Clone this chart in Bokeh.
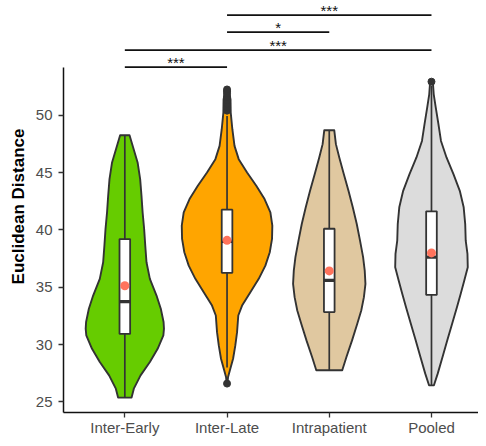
import numpy as np
from bokeh.plotting import figure
from bokeh.models import Range1d, FixedTicker
from bokeh.core.properties import value
from bokeh.embed import file_html
from bokeh.resources import INLINE

# ---------------- data ----------------
groups = ["Inter-Early", "Inter-Late", "Intrapatient", "Pooled"]
fill_colors = ["#66CC00", "#FFA500", "#E0C8A0", "#DCDCDC"]

# violin outlines (value, half-width in category units)
early_y = [48.26, 45.88, 44.43, 42.98, 41.53, 40.08, 38.62, 37.18, 35.73, 34.27,
           33.12, 31.96, 31.38, 30.79, 29.63, 28.48, 27.31, 26.15, 25.37]
early_w = [0.046, 0.125, 0.150, 0.163, 0.174, 0.189, 0.200, 0.212, 0.245, 0.310,
           0.352, 0.379, 0.383, 0.377, 0.321, 0.245, 0.154, 0.088, 0.066]

late_y = [52.25, 51.39, 50.23, 48.78, 47.33, 46.17, 45.01, 43.85, 42.69, 41.53,
          40.37, 39.21, 38.05, 36.88, 35.73, 34.57, 33.40, 32.53, 31.08, 29.92,
          28.76, 27.89, 27.17, 26.59]
late_w = [0.015, 0.034, 0.036, 0.052, 0.073, 0.114, 0.196, 0.286, 0.367, 0.424,
          0.443, 0.440, 0.418, 0.375, 0.310, 0.228, 0.147, 0.110, 0.098, 0.081,
          0.059, 0.032, 0.010, 0.004]

intra_y = [48.69, 47.48, 46.32, 44.87, 43.41, 41.97, 40.51, 39.06, 37.62, 36.45,
           35.29, 34.13, 32.97, 31.81, 30.36, 28.91, 27.75]
intra_w = [0.049, 0.065, 0.098, 0.142, 0.188, 0.230, 0.269, 0.301, 0.331, 0.347,
           0.354, 0.339, 0.313, 0.274, 0.223, 0.168, 0.127]

pooled_y = [52.93, 52.70, 51.83, 50.67, 49.22, 47.76, 46.32, 44.87, 43.41, 41.97,
            40.51, 39.06, 37.90, 36.75, 35.58, 34.42, 33.26, 31.81, 30.36, 28.91,
            27.46, 26.44]
pooled_w = [0.006, 0.015, 0.022, 0.042, 0.068, 0.093, 0.147, 0.215, 0.277, 0.315,
            0.330, 0.335, 0.352, 0.355, 0.321, 0.286, 0.249, 0.202, 0.154, 0.108,
            0.061, 0.024]

# box statistics
box_q1 = [30.92, 36.25, 32.83, 34.33]
box_med = [33.74, 39.00, 35.60, 37.62]
box_q3 = [39.20, 41.76, 40.10, 41.62]
whisk_lo = [25.37, 28.00, 27.75, 26.44]
whisk_hi = [48.26, 49.94, 48.69, 52.55]
means = [35.13, 39.09, 36.42, 37.99]

# outliers
out_group = [2, 2, 2, 2, 2, 2, 2, 2, 2, 4]
out_y = [50.40, 50.70, 51.00, 51.30, 51.60, 51.90, 52.10, 52.25, 26.59, 52.93]

# significance brackets
sig_from = [1, 1, 2, 2]
sig_to = [2, 4, 3, 4]
sig_level = [54.20, 55.68, 57.25, 58.73]
sig_label = ["***", "***", "*", "***"]

y_ticks = [25, 30, 35, 40, 45, 50]

# ---------------- figure ----------------
FONT = "Liberation Sans"
p = figure(width=478, height=438, output_backend="svg", toolbar_location=None,
           x_range=Range1d(0.4, 4.46), y_range=Range1d(24.07, 60.01),
           min_border_left=63, min_border_right=0, min_border_top=0,
           min_border_bottom=25)
p.outline_line_color = None
p.xgrid.visible = False
p.ygrid.visible = False
p.background_fill_color = "white"

violins = [(early_y, early_w), (late_y, late_w), (intra_y, intra_w), (pooled_y, pooled_w)]
xs, ys = [], []
for i, (vy, vw) in enumerate(violins):
    c = i + 1
    vy = np.array(vy)
    vw = np.array(vw)
    xs.append(list(c - vw) + list((c + vw)[::-1]))
    ys.append(list(vy) + list(vy[::-1]))
p.patches(xs, ys, fill_color=fill_colors, line_color="#333333", line_width=1.9,
          line_join="round")

cats = [1, 2, 3, 4]
# whiskers
p.segment(x0=cats, y0=whisk_lo, x1=cats, y1=whisk_hi, line_color="#333333", line_width=1.7)
# boxes
bw = 0.052
p.quad(left=[c - bw for c in cats], right=[c + bw for c in cats], bottom=box_q1, top=box_q3,
       fill_color="white", line_color="#333333", line_width=1.8)
p.segment(x0=[c - bw for c in cats], y0=box_med, x1=[c + bw for c in cats], y1=box_med,
          line_color="#333333", line_width=3.4)
# outliers
p.scatter(out_group, out_y, size=7, fill_color="#333333", line_color="#333333")
# means
p.scatter(cats, means, size=9, fill_color="#FF735C", line_color=None)

# significance
p.segment(x0=sig_from, y0=sig_level, x1=sig_to, y1=sig_level, line_color="#111111", line_width=1.6)
p.text(x=[(a + b) / 2 for a, b in zip(sig_from, sig_to)], y=sig_level, text=sig_label,
       text_font=value(FONT), text_font_size="15px", text_color="#111111",
       text_align="center", text_baseline="alphabetic", y_offset=-5)

# axes
xa = p.xaxis[0]
xa.ticker = FixedTicker(ticks=cats)
xa.major_label_overrides = {c: g for c, g in zip(cats, groups)}
ya = p.yaxis[0]
ya.ticker = FixedTicker(ticks=y_ticks)
ya.bounds = (24.07, 54.2)
ya.axis_label = "Euclidean Distance"
ya.axis_label_text_font = FONT
ya.axis_label_text_font_style = "bold"
ya.axis_label_text_font_size = "17px"
ya.axis_label_text_color = "black"
ya.axis_label_standoff = 5
for ax in (xa, ya):
    ax.axis_line_color = "#111111"
    ax.axis_line_width = 1.5
    ax.major_tick_line_color = "#333333"
    ax.major_tick_line_width = 1.3
    ax.major_tick_out = 5
    ax.major_tick_in = 0
    ax.minor_tick_line_color = None
    ax.major_label_text_font = FONT
    ax.major_label_text_font_size = "15px"
    ax.major_label_text_color = "#4D4D4D"
xa.major_label_standoff = 1
ya.major_label_standoff = 6

open("out.html", "w").write(file_html(p, INLINE))
